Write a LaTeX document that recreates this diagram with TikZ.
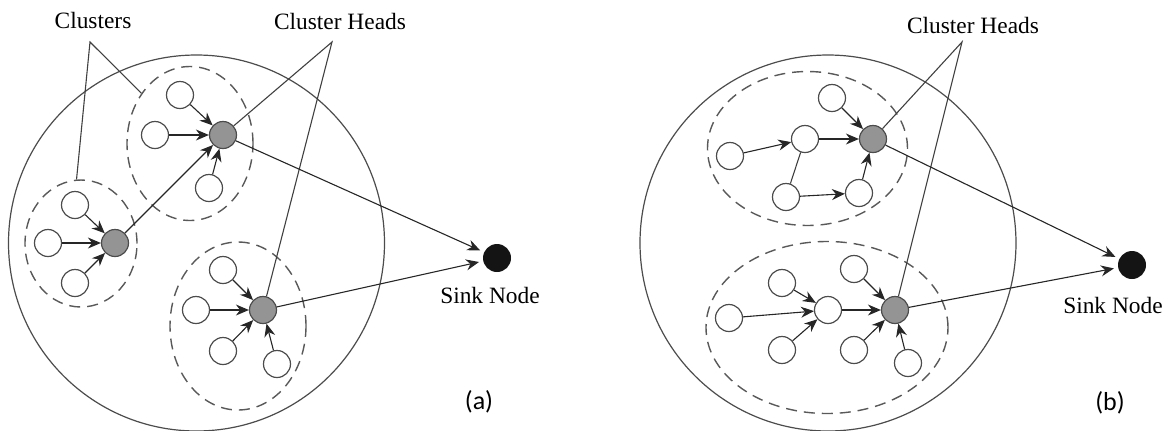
\documentclass[tikz,border=0pt]{standalone}
\usepackage{fontspec}
\setmainfont{Liberation Serif}
\newfontfamily\timesfont{Liberation Serif}
\newfontfamily\calibri{Carlito}
\usepackage{tikz}
\usetikzlibrary{arrows.meta, shapes.geometric, calc}

\begin{document}
\begin{tikzpicture}[x=0.5pt, y=-0.5pt,
    >={Stealth[length=6.5pt,width=5.5pt]},
    sensor/.style={circle, draw=black!70, line width=0.6pt, fill=white,
                   minimum size=13.5pt, inner sep=0pt},
    head/.style={sensor, fill=black!42},
    sink/.style={circle, fill=black!92, minimum size=14pt, inner sep=0pt},
    cluster/.style={ellipse, draw=black!65, dash pattern=on 5.5pt off 3.5pt,
                    line width=0.7pt, inner sep=0pt},
    field/.style={circle, draw=black!70, line width=0.6pt,
                  minimum size=188pt, inner sep=0pt},
    link/.style={->, draw=black!85, line width=0.55pt},
    lead/.style={draw=black!75, line width=0.55pt},
    lbl/.style={font=\timesfont\fontsize{11.7}{14}\selectfont, inner sep=0pt},
    tag/.style={font=\calibri\fontsize{13}{15}\selectfont, inner sep=0pt}]
    \useasboundingbox (0,0) rectangle (1169,430);

    % (a)
    \node[field] (fielda) at (196.5,243) {};
    \node[cluster, minimum width=63pt, minimum height=77pt] (atc) at (190,143.5) {};
    \node[cluster, minimum width=56pt, minimum height=63.5pt] (alc) at (81,243.5) {};
    \node[cluster, minimum width=68pt, minimum height=84pt] (abc) at (238,326) {};

    \node[lbl] (clsa) at (93,20) {Clusters};
    \node[lbl] (cha) at (340,21) {Cluster Heads};
    \coordinate (clsap) at (90,42);
    \coordinate (chap) at (332,42);

    \node[sensor] (at1) at (180,95) {};
    \node[sensor] (at2) at (155,135) {};
    \node[sensor] (at3) at (209,188) {};
    \node[head] (ath) at (223,135) {};

    \node[sensor] (al1) at (75,205) {};
    \node[sensor] (al2) at (48,243) {};
    \node[sensor] (al3) at (75,283) {};
    \node[head] (alh) at (115,243) {};

    \node[sensor] (ab1) at (223,270) {};
    \node[sensor] (ab2) at (196,310) {};
    \node[sensor] (ab3) at (223,351) {};
    \node[sensor] (ab4) at (277,364) {};
    \node[head] (abh) at (263,310) {};

    \node[sink] (asink) at (497,258) {};
    \node[lbl] (asinkl) at (490,295) {Sink Node};
    \node[tag] (taga) at (479,402) {(a)};

    %edges
    \draw[lead] (atc.134) -- (clsap) -- (alc.94);
    \draw[lead] (ath) -- (chap) -- (abh);

    \draw[link] (at1) -- (ath);
    \draw[link] (at2) -- (ath);
    \draw[link] (at3) -- (ath);
    \draw[link] (al1) -- (alh);
    \draw[link] (al2) -- (alh);
    \draw[link] (al3) -- (alh);
    \draw[link] (alh) -- (ath);
    \draw[link] (ab1) -- (abh);
    \draw[link] (ab2) -- (abh);
    \draw[link] (ab3) -- (abh);
    \draw[link] (ab4) -- (abh);
    \draw[link, shorten >=2pt] (ath) -- (asink);
    \draw[link, shorten >=2pt] (abh) -- (asink);

    % (b)
    \node[field] (fieldb) at (828,243) {};
    \node[cluster, minimum width=100pt, minimum height=77pt] (btc) at (807.5,148.5) {};
    \node[cluster, minimum width=121pt, minimum height=86pt] (bbc) at (827,327.5) {};

    \node[lbl] (chb) at (973,25) {Cluster Heads};
    \coordinate (chbp) at (962,42);

    \node[sensor] (bt1) at (832,98) {};
    \node[sensor] (bt2) at (730,156) {};
    \node[sensor] (bt3) at (805,139) {};
    \node[sensor] (bt4) at (786,197) {};
    \node[sensor] (bt5) at (859,193) {};
    \node[head] (bth) at (873,139) {};

    \node[sensor] (bb1) at (729,318) {};
    \node[sensor] (bb2) at (782,283) {};
    \node[sensor] (bb3) at (782,350) {};
    \node[sensor] (bbm) at (828,310) {};
    \node[sensor] (bb4) at (854,269) {};
    \node[sensor] (bb5) at (854,350) {};
    \node[sensor] (bb6) at (908,363) {};
    \node[head] (bbh) at (895,310) {};

    \node[sink] (bsink) at (1132,265) {};
    \node[lbl] (bsinkl) at (1113,305) {Sink Node};
    \node[tag] (tagb) at (1110,403) {(b)};

    %edges
    \draw[lead] (bth) -- (chbp) -- (bbh);

    \draw[link] (bt2) -- (bt3);
    \draw[link] (bt3) -- (bth);
    \draw[link] (bt1) -- (bth);
    \draw[lead] (bt3) -- (bt4);
    \draw[link] (bt4) -- (bt5);
    \draw[link] (bt5) -- (bth);
    \draw[link] (bb1) -- (bbm);
    \draw[link] (bb2) -- (bbm);
    \draw[link] (bb3) -- (bbm);
    \draw[link] (bbm) -- (bbh);
    \draw[link] (bb4) -- (bbh);
    \draw[link] (bb5) -- (bbh);
    \draw[link] (bb6) -- (bbh);
    \draw[link, shorten >=2pt] (bth) -- (bsink);
    \draw[link, shorten >=2pt] (bbh) -- (bsink);
\end{tikzpicture}
\end{document}
